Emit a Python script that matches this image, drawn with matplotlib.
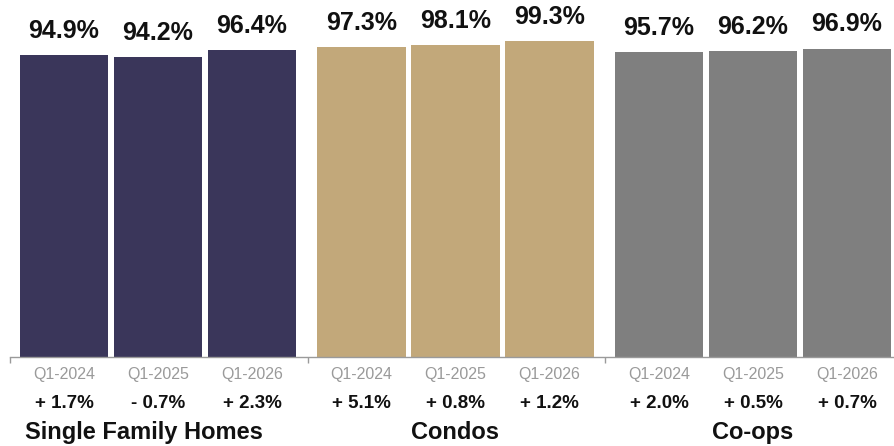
import matplotlib
matplotlib.use("Agg")
import matplotlib.pyplot as plt

# ---- data ----
categories = ["Single Family Homes", "Condos", "Co-ops"]
periods = ["Q1-2024", "Q1-2025", "Q1-2026"]
sfh_values = [94.9, 94.2, 96.4]
condo_values = [97.3, 98.1, 99.3]
coop_values = [95.7, 96.2, 96.9]
sfh_changes = [1.7, -0.7, 2.3]
condo_changes = [5.1, 0.8, 1.2]
coop_changes = [2.0, 0.5, 0.7]

series_values = [sfh_values, condo_values, coop_values]
series_changes = [sfh_changes, condo_changes, coop_changes]
colors = ["#3A365A", "#C2A87A", "#7F7F7F"]

plt.rcParams['font.family'] = ['Liberation Sans', 'DejaVu Sans']

W, H = 894, 446
fig = plt.figure(figsize=(W / 100, H / 100), dpi=100)
ax_left, ax_right, ax_bottom_px, ax_top_px = 10, 894, 357, 0
ax = fig.add_axes([ax_left / W, (H - ax_bottom_px) / H,
                   (ax_right - ax_left) / W, (ax_bottom_px - ax_top_px) / H])

group_width = 3.165
first_offset = 0.574
bar_width = 0.945
title_shift = [-0.15, 0.0, 0.0]  # layout tweak for group titles (bar units)

for g, (vals, chg) in enumerate(zip(series_values, series_changes)):
    xs = [g * group_width + first_offset + i for i in range(len(vals))]
    ax.bar(xs, vals, width=bar_width, color=colors[g], linewidth=0)
    for x, v, c, p in zip(xs, vals, chg, periods):
        ax.annotate(f"{v:.1f}%", (x, v), xytext=(0, 12.5), textcoords="offset points",
                    ha="center", va="baseline", fontsize=18, fontweight="bold",
                    color="#111111")
        ax.text(x, -0.048, p, transform=ax.get_xaxis_transform(), ha="center",
                va="center", fontsize=11.5, color="#9A9A9A")
        sign = "+" if c >= 0 else "-"
        ax.text(x, -0.131, f"{sign} {abs(c):.1f}%", transform=ax.get_xaxis_transform(),
                ha="center", va="center", fontsize=13.5, fontweight="bold", color="#111111")
    ax.text(g * group_width + first_offset + 1 + title_shift[g], -0.211, categories[g],
            transform=ax.get_xaxis_transform(), ha="center", va="center",
            fontsize=17, fontweight="bold", color="#111111")

ax.set_xlim(0, (ax_right - ax_left) / 94.0)
ax.set_ylim(0, 112.2)
for s in ["top", "right", "left"]:
    ax.spines[s].set_visible(False)
ax.spines["bottom"].set_color("#9A9A9A")
ax.spines["bottom"].set_linewidth(1.0)
ax.set_yticks([])
ax.set_xticks([g * group_width for g in range(3)])
ax.set_xticklabels([])
ax.tick_params(axis="x", length=4, color="#9A9A9A", width=1)
ax.patch.set_alpha(0)

fig.savefig("out.png", dpi=100)
